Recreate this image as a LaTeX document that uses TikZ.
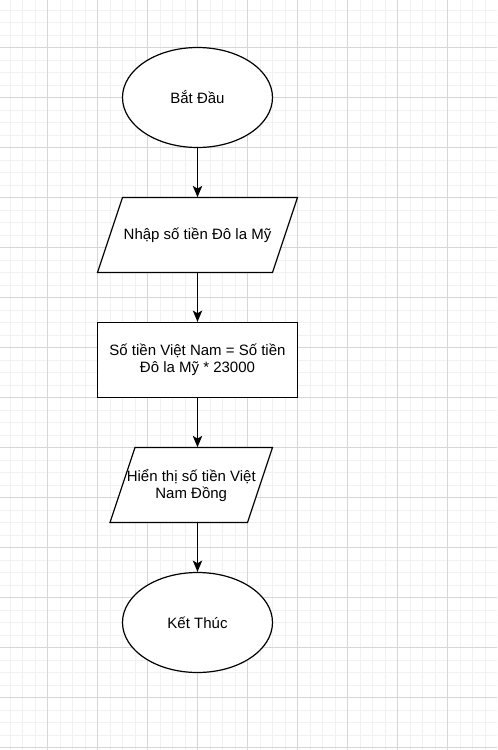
\documentclass[tikz,border=0pt]{standalone}
\usepackage{fontspec}
\setmainfont{Liberation Sans}
\usetikzlibrary{shapes,arrows.meta,positioning,calc}
\definecolor{gridminor}{RGB}{241,241,241}
\definecolor{gridmajor}{RGB}{214,214,214}

\begin{document}
\begin{tikzpicture}[x=0.75pt, y=-0.75pt,
    font=\fontsize{11.25}{12.75}\selectfont,
    shapeline/.style={draw=black, line width=0.9pt, fill=white},
    terminal/.style={ellipse, shapeline, minimum width=112.5pt, minimum height=75pt, inner sep=0pt},
    process/.style={rectangle, shapeline, minimum width=150pt, minimum height=56.25pt, align=center},
    iobox/.style={rectangle, minimum height=56.25pt, align=center, inner sep=0pt},
    arrow/.style={-{Stealth[length=8.5pt, width=7pt, inset=2pt]}, line width=0.9pt}]
    \fill[white] (0,0) rectangle (497,750);
    \useasboundingbox (0,0) rectangle (497,750);
    \foreach \k in {0,...,38}
        \draw[gridminor, line width=0.75pt] ({10+12.5*\k},0) -- ({10+12.5*\k},750);
    \foreach \k in {0,...,59}
        \draw[gridminor, line width=0.75pt] (0,{10+12.5*\k}) -- (497,{10+12.5*\k});
    \foreach \k in {0,...,8}
        \draw[gridmajor, line width=0.75pt] ({47.5+50*\k},0) -- ({47.5+50*\k},750);
    \foreach \k in {0,...,14}
        \draw[gridmajor, line width=0.75pt] (0,{47.5+50*\k}) -- (497,{47.5+50*\k});

    \node[terminal] (start) at (197.5,97.5) {Bắt Đầu};
    \draw[shapeline] (122.5,197.5) -- (297.5,197.5) -- (272.5,272.5) -- (97.5,272.5) -- cycle;
    \node[iobox] (input) at (197.5,235) {Nhập số tiền Đô la Mỹ};
    \node[process] (calc) at (197.5,360) {Số tiền Việt Nam = Số tiền\\Đô la Mỹ * 23000};
    \draw[shapeline] (135,447.5) -- (272.5,447.5) -- (247.5,522.5) -- (110,522.5) -- cycle;
    \node[iobox] (output) at (191.25,485) {Hiển thị số tiền Việt\\Nam Đồng};
    \node[terminal] (stop) at (197.5,622.5) {Kết Thúc};

    \draw[arrow] (start) -- (input);
    \draw[arrow] (input) -- (calc);
    \draw[arrow] (calc) -- (calc |- output.north);
    \draw[arrow] (stop |- output.south) -- (stop);
\end{tikzpicture}
\end{document}
